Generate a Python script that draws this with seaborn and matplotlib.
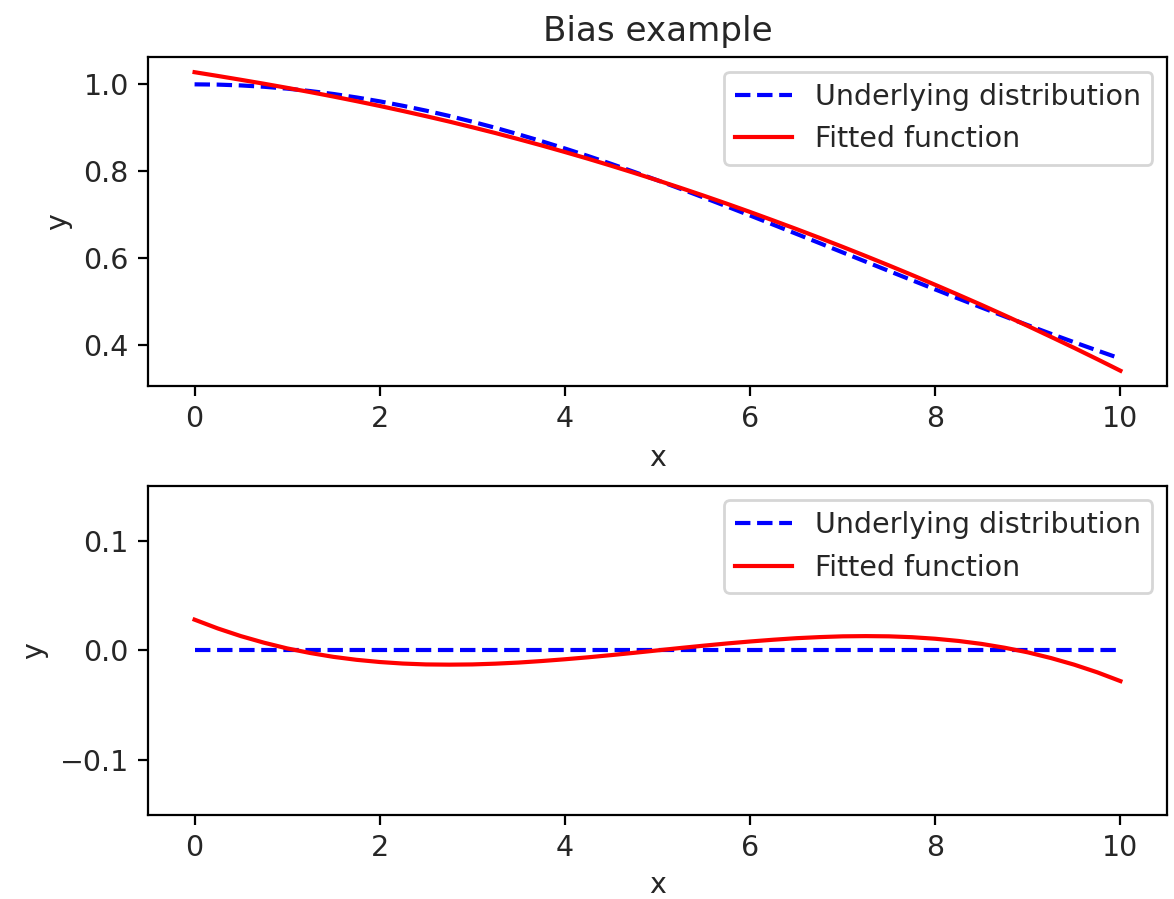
import numpy as np
import seaborn as sns
import matplotlib.pyplot as plt

# x positions and values
x_vals = [0.0, 0.25, 0.5, 0.75, 1.0, 1.25, 1.5, 1.75, 2.0, 2.25, 2.5,
          2.75, 3.0, 3.25, 3.5, 3.75, 4.0, 4.25, 4.5, 4.75, 5.0,
          5.25, 5.5, 5.75, 6.0, 6.25, 6.5, 6.75, 7.0, 7.25, 7.5,
          7.75, 8.0, 8.25, 8.5, 8.75, 9.0, 9.25, 9.5, 9.75, 10.0]
underlying = [1.0000, 0.9994, 0.9975, 0.9944, 0.9901, 0.9845, 0.9778, 0.9698, 0.9608, 0.9506, 0.9394,
              0.9272, 0.9139, 0.8998, 0.8847, 0.8688, 0.8521, 0.8348, 0.8167, 0.7980, 0.7788,
              0.7591, 0.7390, 0.7185, 0.6977, 0.6766, 0.6554, 0.6341, 0.6126, 0.5912, 0.5698,
              0.5485, 0.5273, 0.5063, 0.4856, 0.4651, 0.4449, 0.4250, 0.4056, 0.3865, 0.3679]
# fitted minus underlying (bottom panel)
residual = [0.0280, 0.0200, 0.0130, 0.0070, 0.0018, -0.0024, -0.0059, -0.0086, -0.0106, -0.0120, -0.0128,
            -0.0130, -0.0128, -0.0121, -0.0111, -0.0097, -0.0081, -0.0063, -0.0043, -0.0022, 0.0000,
            0.0022, 0.0043, 0.0063, 0.0081, 0.0097, 0.0111, 0.0121, 0.0128, 0.0130, 0.0128,
            0.0120, 0.0106, 0.0086, 0.0059, 0.0024, -0.0018, -0.0070, -0.0130, -0.0200, -0.0280]

x = np.array(x_vals)
under = np.array(underlying)
resid = np.array(residual)
fitted = under + resid

plt.rcParams['font.size'] = 10.25
plt.rcParams['text.color'] = '.15'
plt.rcParams['axes.labelcolor'] = '.15'
plt.rcParams['xtick.labelcolor'] = '.15'
plt.rcParams['ytick.labelcolor'] = '.15'

DPI = 200
fig = plt.figure(figsize=(1174 / DPI, 899 / DPI), dpi=DPI)
ax1 = fig.add_axes([0.1263, 0.5710, 0.8675, 0.3653])
ax2 = fig.add_axes([0.1263, 0.0934, 0.8675, 0.3663])

# top panel: the curves themselves
sns.lineplot(x=x, y=under, ax=ax1, color='blue', linestyle='--', label='Underlying distribution')
sns.lineplot(x=x, y=fitted, ax=ax1, color='red', label='Fitted function')
ax1.set_xlabel('x')
ax1.set_ylabel('y')
ax1.set_title('Bias example', fontsize=12.3)
ax1.legend(loc='upper right')

# bottom panel: difference to the underlying distribution
sns.lineplot(x=x, y=under - under, ax=ax2, color='blue', linestyle='--', label='Underlying distribution')
sns.lineplot(x=x, y=resid, ax=ax2, color='red', label='Fitted function')
ax2.set_ylim(-0.15, 0.15)
ax2.set_xlabel('x', labelpad=3)
ax2.set_ylabel('y')
ax2.legend(loc='upper right')

for ax in (ax1, ax2):
    ax.set_xticks([0, 2, 4, 6, 8, 10])

fig.savefig('out.png', dpi=DPI)
